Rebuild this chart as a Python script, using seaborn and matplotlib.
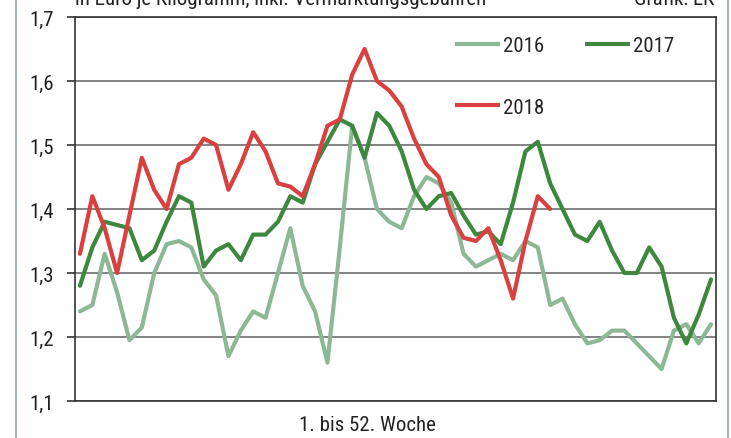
"""plot.py

Erzeugerpreise je Woche 2016-2018 (Euro je Kilogramm).
"""

import matplotlib as mpl
import matplotlib.pyplot as plt
import pandas as pd
import seaborn as sns

# Weekly prices
weeks = list(range(1, 53))

price_2016 = [1.24, 1.25, 1.33, 1.27, 1.195, 1.215, 1.30, 1.345, 1.35, 1.34,
              1.29, 1.265, 1.17, 1.21, 1.24, 1.23, 1.30, 1.37, 1.28, 1.24,
              1.16, 1.34, 1.53, 1.48, 1.40, 1.38, 1.37, 1.42, 1.45, 1.44,
              1.41, 1.33, 1.31, 1.32, 1.33, 1.32, 1.35, 1.34, 1.25, 1.26,
              1.22, 1.19, 1.195, 1.21, 1.21, 1.19, 1.17, 1.15, 1.21, 1.22,
              1.19, 1.22]

price_2017 = [1.28, 1.34, 1.38, 1.375, 1.37, 1.32, 1.335, 1.38, 1.42, 1.41,
              1.31, 1.335, 1.345, 1.32, 1.36, 1.36, 1.38, 1.42, 1.41, 1.47,
              1.505, 1.54, 1.53, 1.48, 1.55, 1.53, 1.49, 1.43, 1.40, 1.42,
              1.425, 1.39, 1.36, 1.365, 1.345, 1.41, 1.49, 1.505, 1.44, 1.40,
              1.36, 1.35, 1.38, 1.335, 1.30, 1.30, 1.34, 1.31, 1.23, 1.19,
              1.235, 1.29]

price_2018 = [1.33, 1.42, 1.37, 1.30, 1.39, 1.48, 1.43, 1.40, 1.47, 1.48,
              1.51, 1.50, 1.43, 1.47, 1.52, 1.49, 1.44, 1.435, 1.42, 1.47,
              1.53, 1.54, 1.61, 1.65, 1.60, 1.585, 1.56, 1.51, 1.47, 1.45,
              1.39, 1.355, 1.35, 1.37, 1.32, 1.26, 1.35, 1.42, 1.40]

y_ticks = [1.1, 1.2, 1.3, 1.4, 1.5, 1.6, 1.7]
y_tick_labels = ['1,1', '1,2', '1,3', '1,4', '1,5', '1,6', '1,7']

colours = {'2016': '#8db896',
           '2017': '#3e873f',
           '2018': '#da4040'}

# Long-form table for seaborn
frames = []
for year, values in (('2016', price_2016), ('2017', price_2017), ('2018', price_2018)):
    frames.append(pd.DataFrame({'Woche': weeks[:len(values)],
                                'Preis': values,
                                'Jahr': year}))
data = pd.concat(frames, ignore_index=True)

sns.set_theme(style='white')
plt.rcParams['font.family'] = ['Liberation Sans Narrow', 'Roboto Condensed', 'DejaVu Sans']

fig = plt.figure(figsize=(7.31, 4.39), dpi=100)
ax = fig.add_axes([75 / 731, 1 - 402 / 439, 641 / 731, 384 / 439])

sns.lineplot(data=data, x='Woche', y='Preis', hue='Jahr', palette=colours,
             linewidth=3.0, ax=ax, legend=False, sort=False,
             solid_joinstyle='round', solid_capstyle='round')

ax.set_xlim(0.6, 52.4)
ax.set_ylim(1.1, 1.7)
ax.set_xticks([])
ax.set_yticks(y_ticks)
ax.set_yticklabels(y_tick_labels, fontsize=15, color='#222222')
ax.tick_params(axis='y', which='major', direction='out', length=6, width=1.2,
               color='#333333', pad=9, left=True)
ax.yaxis.grid(True, color='#7a7a7a', linewidth=1.3)
ax.set_axisbelow(True)
for spine in ax.spines.values():
    spine.set_visible(True)
    spine.set_color('#333333')
    spine.set_linewidth(1.2)

ax.set_ylabel('')
ax.set_xlabel('1. bis 52. Woche', fontsize=15, color='#222222', va='center')
ax.xaxis.set_label_coords((367.5 - 75) / 641, -0.06)

# Legend: 2016 and 2017 in the first row, 2018 below 2016
handles = [mpl.lines.Line2D([], [], color=colours[y], linewidth=3.0, solid_capstyle='butt')
           for y in ('2016', '2018', '2017')]
ax.legend(handles, ['2016', '2018', '2017'], ncol=2, loc='upper left',
          bbox_to_anchor=((455 - 75) / 641, (402 - 37) / 384),
          frameon=False, fontsize=15, handlelength=2.15, handletextpad=0.15,
          columnspacing=1.95, labelspacing=2.05, borderpad=0, borderaxespad=0)

# Header texts, cut off at the top edge like in the source
fig.text(75 / 731, 1 - 5 / 439, 'in Euro je Kilogramm, inkl. Vermarktungsgebühren',
         fontsize=15, color='#222222', ha='left', va='baseline')
fig.text(714 / 731, 1 - 5 / 439, 'Grafik: LK',
         fontsize=15, color='#222222', ha='right', va='baseline')

# Outer box lines of the graphic
for x in (16, 728):
    fig.add_artist(mpl.lines.Line2D([x / 731, x / 731], [0, 1], color='#a9b4c2',
                                    linewidth=1.5, transform=fig.transFigure))

fig.savefig('out.png', dpi=100)
